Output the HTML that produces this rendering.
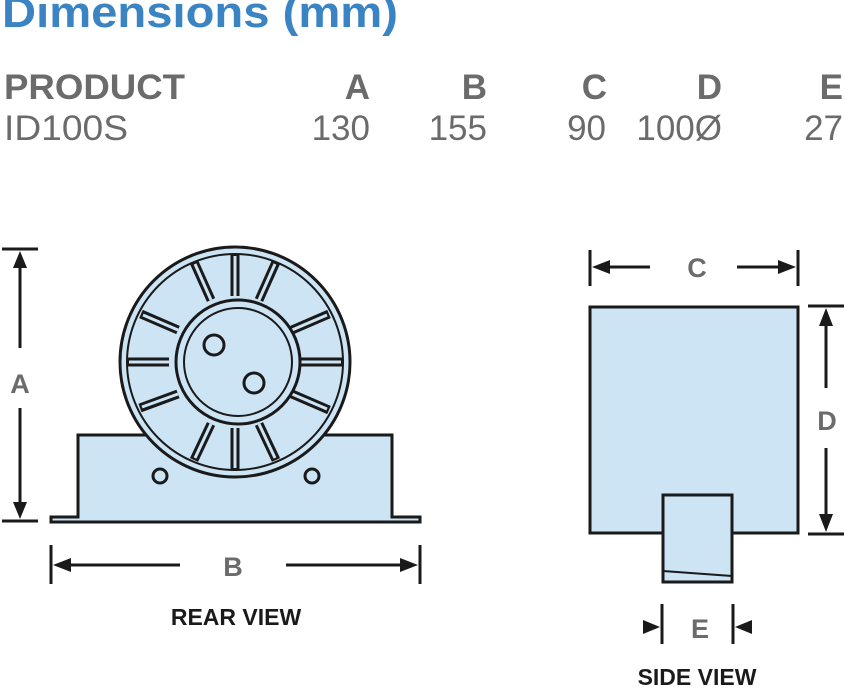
<!DOCTYPE html>
<html><head><style>html,body{margin:0;padding:0;background:#fff;}svg{display:block;}</style></head>
<body>
<svg width="846" height="690" viewBox="0 0 846 690" xmlns="http://www.w3.org/2000/svg" font-family="Liberation Sans, sans-serif">
<text x="2" y="27" font-size="44" font-weight="bold" fill="#3a84c4" textLength="396" lengthAdjust="spacingAndGlyphs">Dimensions (mm)</text>
<text x="4" y="99" font-size="35" font-weight="bold" fill="#6b6b6b" textLength="181" lengthAdjust="spacingAndGlyphs">PRODUCT</text>
<g fill="#6b6b6b" font-size="35" font-weight="bold" text-anchor="end">
<text x="370" y="99">A</text><text x="487" y="99">B</text><text x="607" y="99">C</text><text x="722" y="99">D</text><text x="843" y="99">E</text>
</g>
<text x="4" y="140" font-size="35" fill="#6b6b6b" textLength="124" lengthAdjust="spacingAndGlyphs">ID100S</text>
<g fill="#6b6b6b" font-size="35" text-anchor="end">
<text x="370" y="140">130</text><text x="487" y="140">155</text><text x="606" y="140">90</text><text x="722" y="140">100Ø</text><text x="843" y="140">27</text>
</g>
<g stroke="#1a1a1a" stroke-width="3" fill="#cce4f4">
<path d="M51 517 H78 V435 H392 V517 H420 V522 H51 Z"/>
<circle cx="160" cy="476" r="7"/><circle cx="312" cy="476" r="7"/>
<circle cx="235" cy="362" r="115"/>
<circle cx="235" cy="362" r="108" stroke-width="2"/>
</g>
<g stroke="#1a1a1a" stroke-width="9" stroke-linecap="butt">
<line x1="235" y1="296" x2="235" y2="254"/><line x1="235" y1="428" x2="235" y2="470"/>
<line x1="169" y1="362" x2="127" y2="362"/><line x1="301" y1="362" x2="343" y2="362"/>
<line x1="211" y1="300" x2="194" y2="262"/><line x1="259" y1="300" x2="276" y2="262"/>
<line x1="178" y1="330" x2="141" y2="314"/><line x1="292" y1="330" x2="329" y2="314"/>
<line x1="178" y1="394" x2="140" y2="408"/><line x1="292" y1="394" x2="329" y2="410"/>
<line x1="211" y1="424" x2="194" y2="460"/><line x1="259" y1="424" x2="276" y2="460"/>
</g>
<g stroke="#cce4f4" stroke-width="3">
<line x1="235" y1="296" x2="235" y2="256"/><line x1="235" y1="428" x2="235" y2="468"/>
<line x1="169" y1="362" x2="129" y2="362"/><line x1="301" y1="362" x2="341" y2="362"/>
<line x1="211" y1="300" x2="195" y2="264"/><line x1="259" y1="300" x2="275" y2="264"/>
<line x1="178" y1="330" x2="143" y2="315"/><line x1="292" y1="330" x2="327" y2="315"/>
<line x1="178" y1="394" x2="142" y2="407"/><line x1="292" y1="394" x2="327" y2="409"/>
<line x1="211" y1="424" x2="195" y2="458"/><line x1="259" y1="424" x2="275" y2="458"/>
</g>
<g stroke="#1a1a1a" stroke-width="3" fill="#cce4f4">
<circle cx="238" cy="362" r="62"/>
<circle cx="238" cy="362" r="54" stroke-width="2"/>
<circle cx="214" cy="345" r="10"/><circle cx="254" cy="383" r="10"/>
</g>
<g stroke="#1a1a1a" stroke-width="3" fill="#cce4f4">
<rect x="590" y="307" width="208" height="226"/>
<rect x="663" y="495" width="69" height="87"/>
<line x1="663" y1="571" x2="732" y2="576" stroke-width="2"/>
</g>
<g stroke="#1a1a1a" stroke-width="3" fill="none">
<line x1="2" y1="249" x2="38" y2="249"/><line x1="2" y1="521" x2="38" y2="521"/>
<line x1="20" y1="262" x2="20" y2="348"/><line x1="20" y1="408" x2="20" y2="508"/>
<line x1="51" y1="545" x2="51" y2="584"/><line x1="420" y1="545" x2="420" y2="584"/>
<line x1="64" y1="565" x2="180" y2="565"/><line x1="286" y1="565" x2="406" y2="565"/>
<line x1="590" y1="250" x2="590" y2="286"/><line x1="798" y1="250" x2="798" y2="286"/>
<line x1="604" y1="267" x2="650" y2="267"/><line x1="737" y1="267" x2="784" y2="267"/>
<line x1="808" y1="306" x2="844" y2="306"/><line x1="808" y1="534" x2="844" y2="534"/>
<line x1="826" y1="320" x2="826" y2="388"/><line x1="826" y1="448" x2="826" y2="520"/>
<line x1="662" y1="604" x2="662" y2="644"/><line x1="733" y1="604" x2="733" y2="644"/>
</g>
<g fill="#1a1a1a">
<path d="M20 251 L13 268 L27 268 Z"/><path d="M20 519 L13 502 L27 502 Z"/>
<path d="M53 565 L71 558 L71 572 Z"/><path d="M418 565 L400 558 L400 572 Z"/>
<path d="M592 267 L610 260 L610 274 Z"/><path d="M796 267 L778 260 L778 274 Z"/>
<path d="M826 308 L819 326 L833 326 Z"/><path d="M826 532 L819 514 L833 514 Z"/>
<path d="M660 627 L643 620 L643 634 Z"/><path d="M735 627 L752 620 L752 634 Z"/>
</g>
<g fill="#6b6b6b" font-size="27" font-weight="bold" text-anchor="middle">
<text x="20" y="393">A</text><text x="233" y="576">B</text><text x="697" y="277">C</text><text x="827" y="430">D</text><text x="700" y="638">E</text>
</g>
<g fill="#1a1a1a" font-size="23" font-weight="bold" text-anchor="middle">
<text x="236" y="625">REAR VIEW</text><text x="697" y="685">SIDE VIEW</text>
</g>
</svg>
</body></html>
